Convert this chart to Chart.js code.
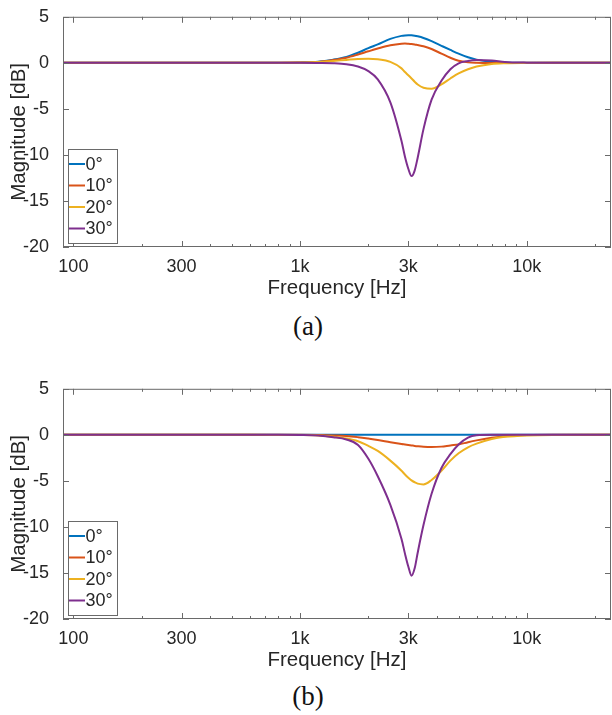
<!DOCTYPE html>
<html lang="en">
<head>
<meta charset="UTF-8">
<title>Magnitude response</title>
<script src="https://cdn.jsdelivr.net/npm/chart.js"></script>
<style>
  body { margin: 0; background: #fff; }
  #page { position: relative; width: 612px; height: 715px; overflow: hidden; background: #fff; }
  .plot { position: absolute; left: 0; }
  .caption {
    position: absolute; left: 2px; width: 612px; text-align: center;
    font-family: "Liberation Serif", "Times New Roman", serif; font-size: 27px; color: #111;
  }
</style>
</head>
<body>
<div id="page">
  <canvas id="graficoA" class="plot" width="612" height="299" style="top:0px"></canvas>
  <div class="caption" style="top:311px">(a)</div>
  <canvas id="graficoB" class="plot" width="612" height="299" style="top:372px"></canvas>
  <div class="caption" style="top:681px">(b)</div>
</div>

<script>
  // frequency points (Hz) shared by every curve
  var freq = [90, 300, 600, 800, 1000, 1200, 1400, 1600, 1800, 2000, 2200, 2500, 2800, 2900, 3000,
              3100, 3200, 3300, 3500, 3800, 4200, 4600, 5000, 5500, 6000, 7000, 8000, 10000, 13000, 23500];

  // (a) magnitude in dB
  var aDeg0  = [0, 0, 0, 0.01, 0.05, 0.12, 0.35, 0.65, 1.1, 1.6, 2.0, 2.6, 2.93, 2.98, 3.0,
                2.99, 2.95, 2.88, 2.7, 2.35, 1.85, 1.4, 1.0, 0.6, 0.35, 0.12, 0.04, 0.01, 0, 0];
  var aDeg10 = [0, 0, 0, 0.01, 0.04, 0.1, 0.3, 0.55, 0.9, 1.25, 1.55, 1.9, 2.08, 2.1, 2.08,
                2.05, 2.0, 1.93, 1.8, 1.5, 1.0, 0.55, 0.22, 0.05, 0, -0.02, -0.01, 0, 0, 0];
  var aDeg20 = [0, 0, 0, 0.01, 0.03, 0.08, 0.2, 0.32, 0.42, 0.45, 0.38, 0.1, -0.6, -1.0, -1.35,
                -1.7, -2.05, -2.35, -2.7, -2.82, -2.35, -1.7, -1.15, -0.7, -0.4, -0.12, -0.04, -0.01, 0, 0];
  var aDeg30 = [0, 0, 0, 0, 0, -0.02, -0.05, -0.15, -0.4, -0.9, -1.8, -4.3, -8.5, -10.2, -11.5,
                -12.3, -11.7, -10.3, -7.2, -4.0, -1.95, -0.7, -0.05, 0.2, 0.3, 0.25, 0.1, 0.02, 0, 0];

  // (b) magnitude in dB
  var bDeg0  = [0, 0, 0, 0, 0, 0, 0, 0, 0, 0, 0, 0, 0, 0, 0,
                0, 0, 0, 0, 0, 0, 0, 0, 0, 0, 0, 0, 0, 0, 0];
  var bDeg10 = [0, 0, 0, 0, 0, -0.02, -0.06, -0.12, -0.25, -0.4, -0.55, -0.8, -1.0, -1.05, -1.1,
                -1.15, -1.2, -1.24, -1.3, -1.33, -1.28, -1.15, -1.05, -0.8, -0.6, -0.32, -0.15, -0.03, 0, 0];
  var bDeg20 = [0, 0, 0, -0.01, -0.02, -0.06, -0.2, -0.4, -0.7, -1.2, -1.75, -2.8, -3.9, -4.3, -4.65,
                -4.95, -5.15, -5.3, -5.38, -4.9, -3.9, -2.8, -2.0, -1.35, -0.95, -0.45, -0.22, -0.06, -0.01, 0];
  var bDeg30 = [0, 0, 0, 0, -0.02, -0.08, -0.25, -0.5, -1.1, -2.6, -4.5, -7.6, -11.3, -12.9, -14.3,
                -15.3, -14.5, -12.8, -9.8, -6.4, -3.6, -2.1, -1.05, -0.3, -0.05, 0, 0, 0, 0, 0];

  // axes
  var xTicks = [100, 300, 1000, 3000, 10000];
  var xTickLabels = ['100', '300', '1k', '3k', '10k'];
  var xMinorTicks = [200, 400, 500, 600, 700, 800, 900, 2000, 4000, 5000, 6000, 7000, 8000, 9000, 20000];
  var yTicks = [-20, -15, -10, -5, 0, 5];

  var legendLabels = ['0°', '10°', '20°', '30°'];
  var cores = ['#0072BD', '#D95319', '#EDB120', '#7E2F8E'];

  var corTexto = '#262626';
  var corEixo = '#6a6a6a';
  var fonte = '"Liberation Sans", Arial, Helvetica, sans-serif';

  // box around the plot, inward tick marks and the legend in the lower-left corner
  var moldura = {
    id: 'moldura',
    afterDraw: function (chart) {
      var ctx = chart.ctx;
      var a = chart.chartArea;
      var sx = chart.scales.x;
      var sy = chart.scales.y;
      ctx.save();
      ctx.strokeStyle = corEixo;
      ctx.lineWidth = 1;
      ctx.strokeRect(a.left + 0.5, a.top + 0.5, a.right - a.left - 1, a.bottom - a.top - 1);

      ctx.beginPath();
      function marcaX(v, len) {
        var px = Math.round(sx.getPixelForValue(v)) + 0.5;
        ctx.moveTo(px, a.bottom); ctx.lineTo(px, a.bottom - len);
        ctx.moveTo(px, a.top); ctx.lineTo(px, a.top + len);
      }
      xTicks.forEach(function (v) { marcaX(v, 6); });
      xMinorTicks.forEach(function (v) { marcaX(v, 3); });
      yTicks.forEach(function (v) {
        var py = Math.round(sy.getPixelForValue(v)) + 0.5;
        ctx.moveTo(a.left, py); ctx.lineTo(a.left + 6, py);
        ctx.moveTo(a.right, py); ctx.lineTo(a.right - 6, py);
      });
      ctx.stroke();

      // legend
      var lx = a.left + 5, ly = a.bottom - 98, lw = 49, lh = 94;
      ctx.fillStyle = '#fff';
      ctx.fillRect(lx, ly, lw, lh);
      ctx.strokeRect(lx + 0.5, ly + 0.5, lw, lh);
      ctx.font = '18px ' + fonte;
      ctx.textBaseline = 'middle';
      ctx.textAlign = 'left';
      for (var i = 0; i < legendLabels.length; i++) {
        var ry = ly + 15 + i * 21.5;
        ctx.strokeStyle = cores[i];
        ctx.lineWidth = 2;
        ctx.beginPath();
        ctx.moveTo(lx + 1, ry); ctx.lineTo(lx + 17, ry);
        ctx.stroke();
        ctx.fillStyle = corTexto;
        ctx.fillText(legendLabels[i], lx + 17.5, ry + 1);
      }
      ctx.restore();
    }
  };

  function criarGrafico(id, series) {
    var datasets = series.map(function (valores, i) {
      return {
        label: legendLabels[i],
        data: freq.map(function (f, k) { return { x: f, y: valores[k] }; }),
        borderColor: cores[i],
        borderWidth: 2,
        pointRadius: 0,
        fill: false,
        cubicInterpolationMode: 'monotone',
        order: series.length - 1 - i
      };
    });

    return new Chart(document.getElementById(id), {
      type: 'line',
      data: { datasets: datasets },
      plugins: [moldura],
      options: {
        responsive: false,
        animation: false,
        layout: { padding: { top: 16, right: 1, left: 0, bottom: 0 } },
        plugins: { legend: { display: false }, tooltip: { enabled: false } },
        scales: {
          x: {
            type: 'logarithmic',
            min: 90,
            max: 23500,
            grid: { display: false },
            border: { display: false },
            afterBuildTicks: function (scale) {
              scale.ticks = xTicks.map(function (v) { return { value: v }; });
            },
            afterFit: function (scale) { scale.height = 52; },
            ticks: {
              autoSkip: false,
              maxRotation: 0,
              padding: 1,
              color: corTexto,
              font: { family: fonte, size: 18 },
              callback: function (value) {
                var i = xTicks.indexOf(value);
                return i >= 0 ? xTickLabels[i] : '';
              }
            },
            title: {
              display: true,
              text: 'Frequency [Hz]',
              color: corTexto,
              padding: 0,
              font: { family: fonte, size: 20.5, lineHeight: 1 }
            }
          },
          y: {
            min: -20,
            max: 5,
            grid: { display: false },
            border: { display: false },
            afterBuildTicks: function (scale) {
              scale.ticks = yTicks.map(function (v) { return { value: v }; });
            },
            afterFit: function (scale) { scale.width = 63; },
            ticks: {
              padding: 6,
              color: corTexto,
              font: { family: fonte, size: 18 }
            },
            title: {
              display: true,
              text: 'Magnitude [dB]',
              color: corTexto,
              padding: { top: 9, bottom: 0 },
              font: { family: fonte, size: 20.5, lineHeight: 1 }
            }
          }
        }
      }
    });
  }

  criarGrafico('graficoA', [aDeg0, aDeg10, aDeg20, aDeg30]);
  criarGrafico('graficoB', [bDeg0, bDeg10, bDeg20, bDeg30]);
</script>
</body>
</html>
